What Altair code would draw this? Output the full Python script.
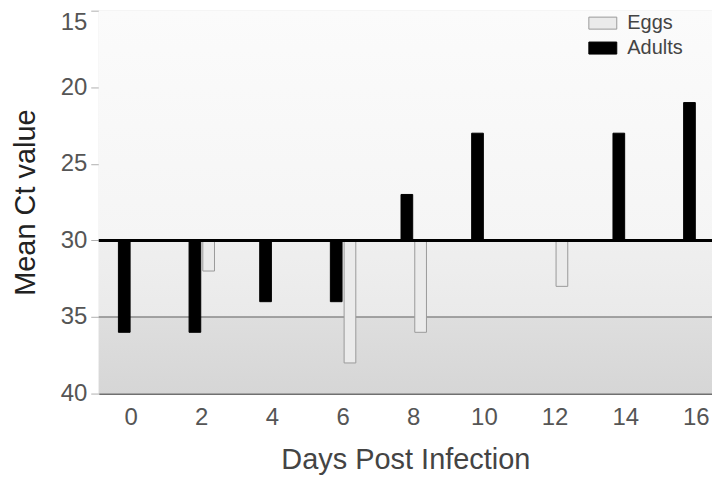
import altair as alt
import pandas as pd

days = ["0", "2", "4", "6", "8", "10", "12", "14", "16"]
adults = [36, 36, 34, 34, 27, 23, None, 23, 21]
eggs = [None, 32, None, 38, 36, None, 33, None, None]
series = ["Eggs", "Adults"]
series_fill = ["#ebebeb", "#000000"]
series_stroke = ["#9a9a9a", "#000000"]
y_ticks = [15, 20, 25, 30, 35, 40]
baseline = 30
band_lo = [15, 30, 35]
band_hi = [30, 35, 40]
band_top_color = ["#fbfbfb", "#efefef", "#dedede"]
band_bottom_color = ["#f5f5f5", "#eaeaea", "#d6d6d6"]

rows = []
for d, a, e in zip(days, adults, eggs):
    if e is not None:
        rows.append({"day": d, "series": "Eggs", "ct": e, "base": baseline})
    if a is not None:
        rows.append({"day": d, "series": "Adults", "ct": a, "base": baseline})
bars_df = pd.DataFrame(rows)

FONT = "Liberation Sans"
yscale = alt.Scale(domain=[15, 40], reverse=True, nice=False, zero=False)

bands = []
for lo, hi, c1, c2 in zip(band_lo, band_hi, band_top_color, band_bottom_color):
    bdf = pd.DataFrame({"lo": [lo], "hi": [hi]})
    bands.append(
        alt.Chart(bdf).mark_rect(
            color=alt.LinearGradient(
                gradient="linear", x1=0, y1=0, x2=0, y2=1,
                stops=[alt.GradientStop(color=c1, offset=0), alt.GradientStop(color=c2, offset=1)],
            )
        ).encode(
            y=alt.Y("lo:Q", scale=yscale),
            y2="hi:Q",
            x=alt.value(0),
            x2=alt.value(615),
        )
    )

rule35 = alt.Chart(pd.DataFrame({"v": [35]})).mark_rule(color="#8a8a8a", strokeWidth=1.5).encode(
    y=alt.Y("v:Q", scale=yscale), x=alt.value(0), x2=alt.value(615)
)

bars = alt.Chart(bars_df).mark_bar(strokeWidth=1).encode(
    x=alt.X(
        "day:N", sort=days,
        scale=alt.Scale(paddingInner=0.64, paddingOuter=0.16, align=0.87),
        axis=alt.Axis(
            title="Days Post Infection", labelAngle=0, ticks=False,
            labelFont=FONT, labelFontSize=24, labelColor="#555555", labelPadding=12,
            titleFont=FONT, titleFontSize=29, titleFontWeight="normal", titleColor="#444444",
            titlePadding=16, domainColor="#707070", domainWidth=2,
        ),
    ),
    xOffset=alt.XOffset("series:N", sort=["Adults", "Eggs"], scale=alt.Scale(paddingInner=0.15)),
    y=alt.Y(
        "ct:Q", scale=yscale,
        axis=alt.Axis(
            title="Mean Ct value", values=y_ticks, grid=False, domain=False,
            tickColor="#b0b0b0", tickSize=8, labelPadding=4,
            labelFont=FONT, labelFontSize=24, labelColor="#555555",
            labelBaseline={"condition": {"test": "datum.value == 15", "value": "top"}, "value": "middle"},
            titleFont=FONT, titleFontSize=29, titleFontWeight="normal", titleColor="#222222",
            titlePadding=20,
        ),
    ),
    y2="base:Q",
    color=alt.Color(
        "series:N", sort=series,
        scale=alt.Scale(domain=series, range=series_fill),
        legend=alt.Legend(
            title=None, orient="none", legendX=491, legendY=-2,
            symbolType="M-1,-0.43H1V0.43H-1Z", symbolSize=784, symbolStrokeWidth=1,
            labelFont=FONT, labelFontSize=20, labelColor="#444444", labelOffset=10,
            rowPadding=-2,
        ),
    ),
    stroke=alt.Stroke(
        "series:N", sort=series,
        scale=alt.Scale(domain=series, range=series_stroke),
        legend=None,
    ),
)

rule30 = alt.Chart(pd.DataFrame({"v": [baseline]})).mark_rule(color="#000000", strokeWidth=3).encode(
    y=alt.Y("v:Q", scale=yscale), x=alt.value(0), x2=alt.value(615)
)

chart = alt.layer(*bands, rule35, bars, rule30).properties(
    width=615, height=384,
    autosize=alt.AutoSizeParams(type="none"),
    padding={"left": 91, "top": 2, "right": 0, "bottom": 87},
).configure_view(stroke="#b8b8b8", strokeWidth=1.5).configure(background="#ffffff")

chart.save("out.html", embed_options={"renderer": "svg", "actions": False})
